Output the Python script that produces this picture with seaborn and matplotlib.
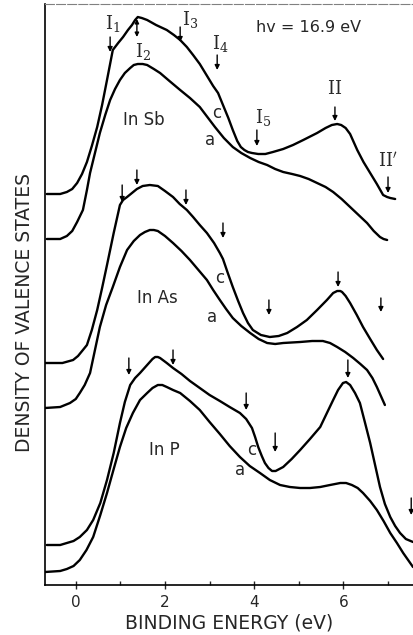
import matplotlib
matplotlib.use("Agg")
import matplotlib.pyplot as plt
import seaborn as sns
import pandas as pd

# Photoemission energy distribution curves (binding energy in eV, intensity in arb. units)
# "c" = crystalline, "a" = amorphous

insb_c_x = [-0.65, -0.35, -0.20, -0.08, 0.03, 0.14, 0.25, 0.36, 0.48, 0.59, 0.70, 0.83, 0.95,
            1.06, 1.17, 1.26, 1.33, 1.39, 1.48, 1.60, 1.80, 2.04, 2.20, 2.34, 2.49, 2.63, 2.78,
            2.93, 3.08, 3.19, 3.30, 3.42, 3.52, 3.62, 3.70, 3.78, 3.86, 3.95, 4.09, 4.25, 4.42,
            4.65, 4.87, 5.10, 5.41, 5.60, 5.74, 5.86, 5.95, 6.05, 6.15, 6.31, 6.45, 6.60, 6.75,
            6.89, 6.98, 7.05, 7.16]
insb_c_y = [411, 411, 413, 416, 422, 431, 443, 459, 478, 500, 525, 555, 562,
            568, 575, 580, 585, 588, 587, 585, 580, 575, 570, 565, 558, 550, 541,
            530, 519, 512, 500, 487, 475, 464, 458, 455, 453, 452, 451, 451, 453,
            456, 460, 465, 472, 477, 480, 481, 480, 477, 471, 455, 443, 432, 421,
            410, 408, 407, 406]

insb_a_x = [-0.65, -0.35, -0.20, -0.08, 0.03, 0.16, 0.25, 0.32, 0.43, 0.54, 0.66, 0.77, 0.88,
            0.99, 1.10, 1.22, 1.30, 1.39, 1.50, 1.60, 1.75, 1.89, 2.10, 2.34, 2.56, 2.78, 2.95,
            3.12, 3.32, 3.52, 3.71, 3.91, 4.10, 4.29, 4.47, 4.65, 4.85, 5.03, 5.22, 5.41, 5.60,
            5.77, 5.96, 6.15, 6.34, 6.53, 6.68, 6.82, 6.90, 6.98]
insb_a_y = [366, 366, 369, 374, 383, 395, 415, 432, 452, 472, 490, 505, 516,
            525, 532, 537, 540, 541, 541, 540, 536, 532, 524, 515, 507, 498, 488,
            478, 467, 458, 452, 447, 443, 440, 436, 433, 431, 429, 426, 422, 418,
            413, 406, 398, 390, 382, 374, 368, 366, 365]

inas_c_x = [-0.69, -0.30, -0.06, 0.05, 0.16, 0.25, 0.36, 0.48, 0.59, 0.70, 0.85, 0.99, 1.06,
            1.15, 1.26, 1.37, 1.50, 1.66, 1.84, 2.00, 2.18, 2.33, 2.49, 2.63, 2.78, 2.94, 3.10,
            3.23, 3.30, 3.40, 3.52, 3.64, 3.75, 3.86, 3.97, 4.15, 4.35, 4.55, 4.74, 4.96, 5.18,
            5.41, 5.63, 5.77, 5.86, 5.93, 5.97, 6.05, 6.15, 6.30, 6.44, 6.60, 6.75, 6.89]
inas_c_y = [242, 242, 245, 249, 255, 260, 275, 295, 317, 340, 372, 400, 405,
            408, 412, 416, 419, 420, 419, 414, 408, 401, 395, 388, 380, 372, 362,
            352, 346, 333, 318, 304, 292, 282, 275, 270, 268, 269, 272, 278, 285,
            295, 305, 312, 314, 314, 313, 309, 302, 290, 278, 266, 255, 246]

inas_a_x = [-0.69, -0.35, -0.13, 0.00, 0.09, 0.20, 0.32, 0.43, 0.54, 0.68, 0.83, 0.99, 1.15,
            1.30, 1.44, 1.55, 1.66, 1.75, 1.84, 2.00, 2.18, 2.37, 2.56, 2.75, 2.94, 3.08, 3.23,
            3.37, 3.52, 3.71, 3.91, 4.10, 4.29, 4.47, 4.65, 5.03, 5.30, 5.54, 5.70, 5.86, 6.04,
            6.22, 6.38, 6.53, 6.65, 6.75, 6.85, 6.93]
inas_a_y = [197, 198, 202, 206, 212, 220, 232, 255, 278, 300, 318, 338, 355,
            364, 370, 373, 375, 375, 374, 369, 362, 354, 345, 335, 325, 315, 305,
            296, 287, 279, 272, 266, 262, 261, 262, 263, 264, 264, 262, 258, 253,
            247, 241, 235, 227, 218, 208, 200]

inp_c_x = [-0.65, -0.35, -0.20, -0.05, 0.09, 0.25, 0.39, 0.55, 0.70, 0.85, 0.99, 1.10, 1.22,
           1.33, 1.44, 1.60, 1.72, 1.78, 1.84, 1.89, 2.04, 2.18, 2.37, 2.56, 2.78, 3.00, 3.23,
           3.45, 3.68, 3.82, 3.95, 4.02, 4.09, 4.17, 4.24, 4.32, 4.40, 4.48, 4.65, 4.84, 5.03,
           5.25, 5.48, 5.63, 5.77, 5.88, 5.99, 6.06, 6.15, 6.26, 6.37, 6.48, 6.60, 6.71, 6.82,
           6.93, 7.05, 7.16, 7.27, 7.40, 7.56]
inp_c_y = [60, 60, 62, 64, 68, 75, 85, 102, 125, 152, 182, 203, 220,
           227, 232, 240, 246, 248, 248, 247, 242, 237, 231, 224, 217, 210, 204,
           198, 192, 186, 177, 168, 158, 149, 142, 137, 134, 134, 138, 146, 155,
           166, 178, 192, 205, 215, 222, 223, 220, 212, 202, 183, 162, 140, 118,
           101, 88, 79, 72, 66, 63]

inp_a_x = [-0.69, -0.35, -0.20, -0.05, 0.09, 0.24, 0.39, 0.55, 0.70, 0.85, 0.99, 1.13, 1.28,
           1.44, 1.60, 1.72, 1.84, 1.94, 2.04, 2.18, 2.34, 2.56, 2.78, 3.00, 3.23, 3.45, 3.68,
           3.90, 4.13, 4.35, 4.58, 4.80, 5.03, 5.25, 5.48, 5.70, 5.93, 6.06, 6.19, 6.32, 6.44,
           6.60, 6.75, 6.90, 7.05, 7.20, 7.34, 7.45, 7.56]
inp_a_y = [33, 34, 36, 39, 45, 55, 68, 90, 112, 136, 158, 177, 192,
           205, 212, 217, 220, 220, 218, 215, 212, 204, 195, 183, 171, 159, 148,
           139, 132, 125, 120, 118, 117, 117, 118, 120, 122, 122, 120, 117, 112,
           104, 95, 84, 72, 62, 52, 45, 38]

# Structure markers: (position, arrow top, arrow bottom)
insb_marks_x = [0.77, 2.34, 3.17, 4.06, 5.81, 7.00]
insb_marks_top = [568, 578, 550, 475, 498, 428]
insb_marks_bot = [553, 563, 535, 459, 484, 412]
insb_marks_lbl = [r"$\mathrm{I}_1$", r"$\mathrm{I}_3$", r"$\mathrm{I}_4$", r"$\mathrm{I}_5$",
                  r"$\mathrm{II}$", r"$\mathrm{II}'$"]
insb_lbl_x = [0.82, 2.56, 3.23, 4.20, 5.81, 7.00]
insb_lbl_y = [582, 586, 561, 487, 516, 444]

inas_marks_x = [1.04, 1.37, 2.47, 3.30, 4.33, 5.88, 6.84]
inas_marks_top = [420, 435, 415, 382, 305, 333, 307]
inas_marks_bot = [403, 420, 400, 367, 290, 318, 293]

inp_marks_x = [1.19, 2.18, 3.82, 4.47, 6.10, 7.52]
inp_marks_top = [247, 255, 212, 172, 245, 107]
inp_marks_bot = [230, 240, 195, 153, 227, 90]

tick_major = [0, 2, 4, 6]
tick_minor = [1, 3, 5, 7]

curves = [
    ("InSb c", insb_c_x, insb_c_y),
    ("InSb a", insb_a_x, insb_a_y),
    ("InAs c", inas_c_x, inas_c_y),
    ("InAs a", inas_a_x, inas_a_y),
    ("InP c", inp_c_x, inp_c_y),
    ("InP a", inp_a_x, inp_a_y),
]

sns.set_style("ticks")
plt.rcParams["font.family"] = ["DejaVu Sans"]

fig = plt.figure(figsize=(4.13, 6.35), dpi=100)
ax = fig.add_axes([45 / 413, 50 / 635, 368 / 413, 581 / 635])

for name, xs, ys in curves:
    df = pd.DataFrame({"energy": xs, "intensity": ys})
    sns.lineplot(data=df, x="energy", y="intensity", sort=False, color="black",
                 linewidth=1.7, ax=ax, solid_joinstyle="round", solid_capstyle="round")

ax.set_xlim(-0.69, 7.56)
ax.set_ylim(20, 601)

# Arrows marking the spectral features
arrow_kw = dict(arrowstyle="-|>", color="black", lw=1.0, mutation_scale=7,
                shrinkA=0, shrinkB=0)
for xs, tops, bots in [(insb_marks_x, insb_marks_top, insb_marks_bot),
                       (inas_marks_x, inas_marks_top, inas_marks_bot),
                       (inp_marks_x, inp_marks_top, inp_marks_bot)]:
    for x, t, b in zip(xs, tops, bots):
        ax.annotate("", xy=(x, b), xytext=(x, t), arrowprops=arrow_kw, annotation_clip=False)

# I2 has a double-headed marker at the main peak
ax.annotate("", xy=(1.37, 568), xytext=(1.37, 586),
            arrowprops=dict(arrowstyle="<|-|>", color="black", lw=1.0, mutation_scale=6,
                            shrinkA=0, shrinkB=0))

for lbl, x, y in zip(insb_marks_lbl, insb_lbl_x, insb_lbl_y):
    ax.text(x, y, lbl, ha="center", va="center", fontsize=13, math_fontfamily="dejavuserif")
ax.text(1.51, 553, r"$\mathrm{I}_2$", ha="center", va="center", fontsize=13,
        math_fontfamily="dejavuserif")

# Sample and phase labels
txt_kw = dict(ha="center", va="center", fontsize=12)
ax.text(1.53, 485, "In Sb", **txt_kw)
ax.text(3.17, 492, "c", **txt_kw)
ax.text(3.01, 465, "a", **txt_kw)
ax.text(1.82, 307, "In As", **txt_kw)
ax.text(3.23, 327, "c", **txt_kw)
ax.text(3.05, 288, "a", **txt_kw)
ax.text(1.98, 155, "In P", **txt_kw)
ax.text(3.95, 155, "c", **txt_kw)
ax.text(3.68, 135, "a", **txt_kw)
ax.text(5.21, 577, "hv = 16.9 eV", ha="center", va="center", fontsize=11.5)

# Axes styling
ax.set_xticks(tick_major)
ax.set_xticks(tick_minor, minor=True)
ax.set_xticklabels([str(t) for t in tick_major])
ax.tick_params(axis="x", which="major", direction="inout", length=6, width=1.0,
               labelsize=11, pad=4)
ax.tick_params(axis="x", which="minor", direction="in", length=3, width=1.0)
ax.set_yticks([])
ax.set_xlabel("BINDING ENERGY (eV)", fontsize=13.5, labelpad=3)
ax.set_ylabel("")
fig.text(25 / 413, 1 - 313 / 635, "DENSITY OF VALENCE STATES", rotation=90,
         ha="center", va="center", fontsize=13.5)

for side in ["left", "bottom"]:
    ax.spines[side].set_linewidth(1.2)
    ax.spines[side].set_color("black")
ax.spines["right"].set_visible(False)
ax.spines["top"].set_color("0.5")
ax.spines["top"].set_linewidth(0.8)
ax.spines["top"].set_linestyle((0, (8, 2)))

fig.savefig("out.png", dpi=100)
